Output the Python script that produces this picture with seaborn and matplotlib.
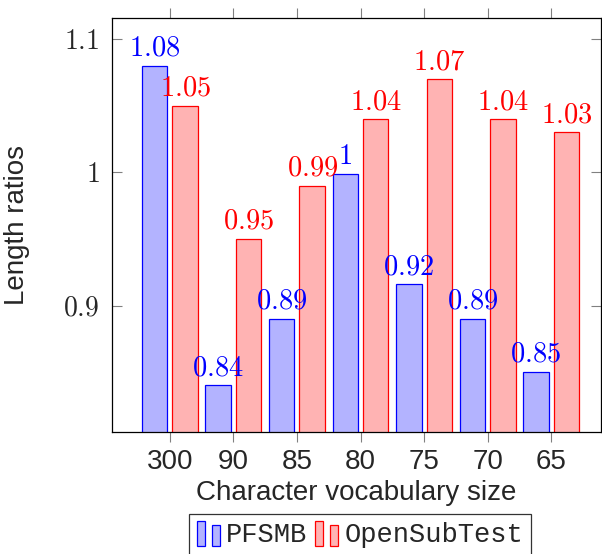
import pandas as pd
import matplotlib
matplotlib.use("Agg")
import matplotlib.pyplot as plt
import seaborn as sns
from matplotlib.patches import Patch, Rectangle
from matplotlib.legend_handler import HandlerBase
from matplotlib.ticker import FixedLocator, FixedFormatter

# 数据
vocab_sizes = ["300", "90", "85", "80", "75", "70", "65"]
pfsmb = [1.08, 0.84, 0.89, 0.999, 0.916, 0.89, 0.85]
opensub = [1.05, 0.95, 0.99, 1.04, 1.07, 1.04, 1.03]
series_names = ["PFSMB", "OpenSubTest"]
y_ticks = [0.9, 1.0, 1.1]
y_tick_labels = ["0.9", "1", "1.1"]

fill_colors = ["#b3b3ff", "#ffb3b3"]
edge_colors = ["#0000ff", "#ff0000"]

sns.set_style("white")
plt.rcParams["font.family"] = ["Liberation Sans", "DejaVu Sans"]
plt.rcParams["mathtext.fontset"] = "cm"
plt.rcParams["font.size"] = 20

df = pd.DataFrame({
    "size": vocab_sizes * 2,
    "ratio": pfsmb + opensub,
    "set": [series_names[0]] * len(vocab_sizes) + [series_names[1]] * len(vocab_sizes),
})

fig = plt.figure(figsize=(6.02, 5.54), dpi=100)
ax = fig.add_axes([0.186, 0.2202, 0.812, 0.7473])

sns.barplot(data=df, x="size", y="ratio", hue="set", order=vocab_sizes,
            hue_order=series_names, palette=fill_colors, width=0.96, gap=0.167,
            saturation=1, legend=False, ax=ax)

# 边框颜色和数值标注
for cont, ec, vals in zip(ax.containers, edge_colors, [pfsmb, opensub]):
    for bar in cont:
        bar.set_edgecolor(ec)
        bar.set_linewidth(0.9)
    labels = [f"${round(v, 2):g}$" for v in vals]
    ax.bar_label(cont, labels=labels, padding=3, color=ec, fontsize=20.5)

ax.set_xlim(-0.91, 6.78)
ax.set_ylim(0.805, 1.116)

ax.yaxis.set_major_locator(FixedLocator(y_ticks))
ax.yaxis.set_major_formatter(FixedFormatter([f"${t}$" for t in y_tick_labels]))

ax.tick_params(axis="x", direction="out", length=7, width=0.8, color="#808080",
               top=True, bottom=True, pad=5)
ax.tick_params(axis="y", direction="in", length=7, width=0.8, color="#808080",
               left=True, right=True, pad=9)

for sp in ax.spines.values():
    sp.set_color("black")
    sp.set_linewidth(0.9)

ax.set_xlabel("Character vocabulary size", labelpad=4)
ax.set_ylabel("Length ratios", labelpad=24)


class TwoBarHandler(HandlerBase):
    def create_artists(self, legend, orig_handle, xdescent, ydescent, width,
                       height, fontsize, trans):
        fc = orig_handle.get_facecolor()
        ec = orig_handle.get_edgecolor()
        w = width * 0.33
        r1 = Rectangle((-xdescent, -ydescent - 3), w, height * 1.35,
                       facecolor=fc, edgecolor=ec, lw=0.9, transform=trans)
        r2 = Rectangle((-xdescent + width * 0.65, -ydescent - 3), w, height * 1.1,
                       facecolor=fc, edgecolor=ec, lw=0.9, transform=trans)
        return [r1, r2]


handles = [Patch(facecolor=fc, edgecolor=ec) for fc, ec in zip(fill_colors, edge_colors)]
leg = fig.legend(handles, series_names, loc="upper center",
                 bbox_to_anchor=(0.598, 0.0722), ncol=2, frameon=True, fancybox=False,
                 edgecolor="black", handler_map={Patch: TwoBarHandler()},
                 prop={"family": "Liberation Mono", "size": 19.5},
                 handlelength=0.85, handletextpad=0.22, columnspacing=0.3,
                 borderpad=0.3, borderaxespad=0)
leg.get_frame().set_linewidth(0.9)

fig.savefig("out.png", dpi=100)
